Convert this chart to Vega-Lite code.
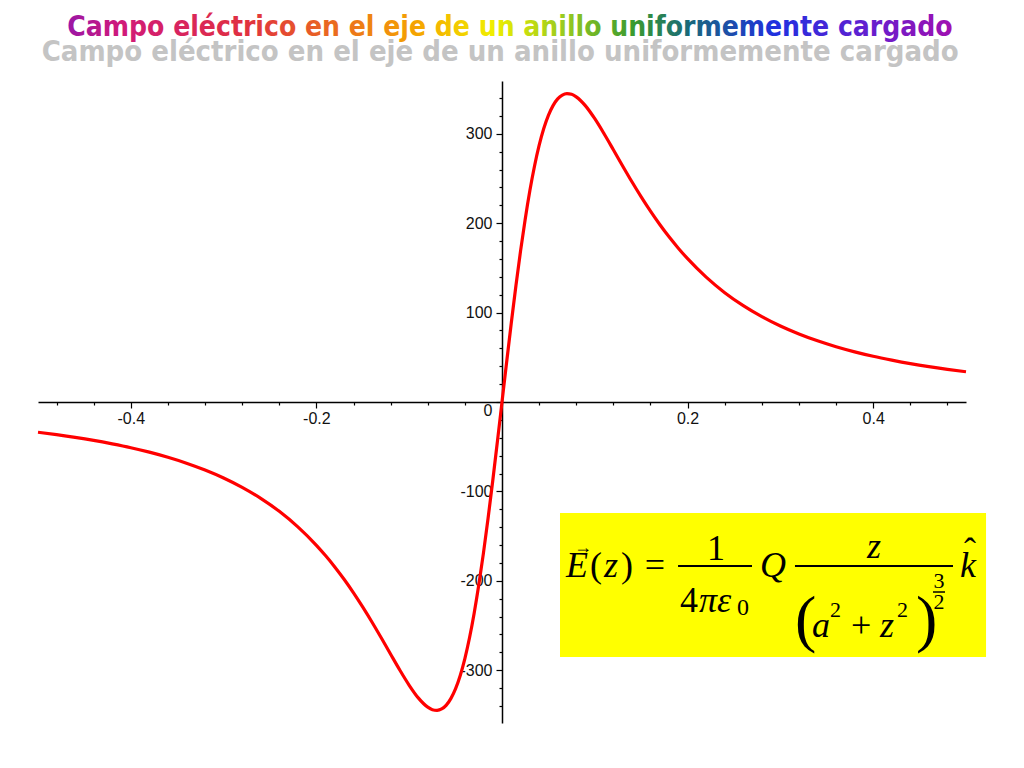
{
  "$schema": "https://vega.github.io/schema/vega-lite/v6.json",
  "autosize": {"type": "none"},
  "width": 928,
  "height": 642,
  "padding": {"left": 38, "top": 81, "right": 58, "bottom": 45},
  "background": "#ffffff",
  "config": {
    "view": {"stroke": null},
    "font": "Liberation Sans"
  },
  "resolve": {"axis": {"x": "independent", "y": "independent"}},
  "datasets": {
    "curve": [
      {"z": -0.5, "E": -33.8}, {"z": -0.48, "E": -36.5}, {"z": -0.46, "E": -39.5}, {"z": -0.44, "E": -42.9},
      {"z": -0.42, "E": -46.8}, {"z": -0.4, "E": -51.1}, {"z": -0.38, "E": -56.1}, {"z": -0.36, "E": -61.8},
      {"z": -0.34, "E": -68.4}, {"z": -0.32, "E": -76.1}, {"z": -0.3, "E": -85.0}, {"z": -0.28, "E": -95.5},
      {"z": -0.26, "E": -107.8}, {"z": -0.24, "E": -122.3}, {"z": -0.22, "E": -139.7}, {"z": -0.2, "E": -160.3},
      {"z": -0.19, "E": -172.0}, {"z": -0.18, "E": -184.7}, {"z": -0.17, "E": -198.5}, {"z": -0.16, "E": -213.4},
      {"z": -0.15, "E": -229.4}, {"z": -0.14, "E": -246.3}, {"z": -0.13, "E": -264.0}, {"z": -0.12, "E": -282.1},
      {"z": -0.11, "E": -300.0}, {"z": -0.1, "E": -316.8}, {"z": -0.09, "E": -331.2}, {"z": -0.08, "E": -341.3},
      {"z": -0.075, "E": -344.1}, {"z": -0.07, "E": -344.8}, {"z": -0.065, "E": -343.3}, {"z": -0.06, "E": -339.0},
      {"z": -0.055, "E": -331.5}, {"z": -0.05, "E": -320.6}, {"z": -0.045, "E": -305.8}, {"z": -0.04, "E": -286.9},
      {"z": -0.035, "E": -263.7}, {"z": -0.03, "E": -236.2}, {"z": -0.025, "E": -204.5}, {"z": -0.02, "E": -169.0},
      {"z": -0.015, "E": -130.0}, {"z": -0.01, "E": -88.3}, {"z": -0.005, "E": -44.6}, {"z": 0, "E": 0},
      {"z": 0.005, "E": 44.6}, {"z": 0.01, "E": 88.3}, {"z": 0.015, "E": 130.0}, {"z": 0.02, "E": 169.0},
      {"z": 0.025, "E": 204.5}, {"z": 0.03, "E": 236.2}, {"z": 0.035, "E": 263.7}, {"z": 0.04, "E": 286.9},
      {"z": 0.045, "E": 305.8}, {"z": 0.05, "E": 320.6}, {"z": 0.055, "E": 331.5}, {"z": 0.06, "E": 339.0},
      {"z": 0.065, "E": 343.3}, {"z": 0.07, "E": 344.8}, {"z": 0.075, "E": 344.1}, {"z": 0.08, "E": 341.3},
      {"z": 0.09, "E": 331.2}, {"z": 0.1, "E": 316.8}, {"z": 0.11, "E": 300.0}, {"z": 0.12, "E": 282.1},
      {"z": 0.13, "E": 264.0}, {"z": 0.14, "E": 246.3}, {"z": 0.15, "E": 229.4}, {"z": 0.16, "E": 213.4},
      {"z": 0.17, "E": 198.5}, {"z": 0.18, "E": 184.7}, {"z": 0.19, "E": 172.0}, {"z": 0.2, "E": 160.3},
      {"z": 0.22, "E": 139.7}, {"z": 0.24, "E": 122.3}, {"z": 0.26, "E": 107.8}, {"z": 0.28, "E": 95.5},
      {"z": 0.3, "E": 85.0}, {"z": 0.32, "E": 76.1}, {"z": 0.34, "E": 68.4}, {"z": 0.36, "E": 61.8},
      {"z": 0.38, "E": 56.1}, {"z": 0.4, "E": 51.1}, {"z": 0.42, "E": 46.8}, {"z": 0.44, "E": 42.9},
      {"z": 0.46, "E": 39.5}, {"z": 0.48, "E": 36.5}, {"z": 0.5, "E": 33.8}
    ],
    "one": [{}]
  },
  "layer": [
    {
      "data": {"name": "one"},
      "mark": {"type": "text", "text": "Campo eléctrico en el eje de un anillo uniformemente cargado", "font": "DejaVu Sans Condensed, Liberation Sans", "fontSize": 29, "fontWeight": "bold", "color": "#c4c4c4", "align": "center", "baseline": "middle", "clip": false},
      "encoding": {"x": {"datum": -0.002, "axis": null}, "y": {"datum": 391, "axis": null}}
    },
    {
      "data": {"name": "one"},
      "mark": {"type": "text", "text": "Campo eléctrico en el eje de un anillo uniformemente cargado", "font": "DejaVu Sans Condensed, Liberation Sans", "fontSize": 28, "fontWeight": "bold", "align": "center", "baseline": "middle", "clip": false,
        "color": {
          "gradient": "linear",
          "x1": 0, "y1": 0, "x2": 1, "y2": 0,
          "stops": [
            {"offset": 0.0, "color": "#9a16a6"},
            {"offset": 0.06, "color": "#d01a7a"},
            {"offset": 0.2, "color": "#e03040"},
            {"offset": 0.3, "color": "#ea6a20"},
            {"offset": 0.4, "color": "#f5a800"},
            {"offset": 0.48, "color": "#f0ee00"},
            {"offset": 0.56, "color": "#9acb20"},
            {"offset": 0.64, "color": "#3a9a30"},
            {"offset": 0.7, "color": "#1a6a78"},
            {"offset": 0.8, "color": "#2030e0"},
            {"offset": 0.9, "color": "#6020d0"},
            {"offset": 1.0, "color": "#a010b0"}
          ]
        }
      },
      "encoding": {"x": {"datum": 0.0086, "axis": null}, "y": {"datum": 418, "axis": null}}
    },
    {
      "data": {"name": "one"},
      "mark": {"type": "rect", "color": "#ffff00", "clip": false},
      "encoding": {"x": {"datum": 0.0625, "axis": null}, "x2": {"datum": 0.5216}, "y": {"datum": -124.1, "axis": null}, "y2": {"datum": -285.2}}
    },
    {"data": {"name": "one"}, "mark": {"type": "text", "text": "E", "font": "Liberation Serif", "fontSize": 36, "fontStyle": "italic", "align": "left", "baseline": "alphabetic", "clip": false},
     "encoding": {"x": {"datum": 0.069, "axis": null}, "y": {"datum": -195.7, "axis": null}}},
    {"data": {"name": "one"}, "mark": {"type": "text", "text": "→", "font": "Liberation Serif", "fontSize": 18, "align": "center", "baseline": "middle", "clip": false},
     "encoding": {"x": {"datum": 0.0873, "axis": null}, "y": {"datum": -163.3, "axis": null}}},
    {"data": {"name": "one"}, "mark": {"type": "text", "text": "(", "font": "Liberation Serif", "fontSize": 36, "align": "left", "baseline": "alphabetic", "clip": false},
     "encoding": {"x": {"datum": 0.0948, "axis": null}, "y": {"datum": -195.7, "axis": null}}},
    {"data": {"name": "one"}, "mark": {"type": "text", "text": "z", "font": "Liberation Serif", "fontSize": 36, "fontStyle": "italic", "align": "left", "baseline": "alphabetic", "clip": false},
     "encoding": {"x": {"datum": 0.1098, "axis": null}, "y": {"datum": -195.7, "axis": null}}},
    {"data": {"name": "one"}, "mark": {"type": "text", "text": ")", "font": "Liberation Serif", "fontSize": 36, "align": "left", "baseline": "alphabetic", "clip": false},
     "encoding": {"x": {"datum": 0.1282, "axis": null}, "y": {"datum": -195.7, "axis": null}}},
    {"data": {"name": "one"}, "mark": {"type": "text", "text": "=", "font": "Liberation Serif", "fontSize": 36, "align": "center", "baseline": "alphabetic", "clip": false},
     "encoding": {"x": {"datum": 0.1649, "axis": null}, "y": {"datum": -195.7, "axis": null}}},
    {"data": {"name": "one"}, "mark": {"type": "text", "text": "1", "font": "Liberation Serif", "fontSize": 36, "align": "center", "baseline": "alphabetic", "clip": false},
     "encoding": {"x": {"datum": 0.2306, "axis": null}, "y": {"datum": -176.7, "axis": null}}},
    {"data": {"name": "one"}, "mark": {"type": "rule", "color": "#000000", "strokeWidth": 2, "clip": false},
     "encoding": {"x": {"datum": 0.1897, "axis": null}, "x2": {"datum": 0.2694}, "y": {"datum": -183.4, "axis": null}}},
    {"data": {"name": "one"}, "mark": {"type": "text", "text": "4", "font": "Liberation Serif", "fontSize": 36, "align": "left", "baseline": "alphabetic", "clip": false},
     "encoding": {"x": {"datum": 0.1918, "axis": null}, "y": {"datum": -234.9, "axis": null}}},
    {"data": {"name": "one"}, "mark": {"type": "text", "text": "πε", "font": "Liberation Serif", "fontSize": 36, "fontStyle": "italic", "align": "left", "baseline": "alphabetic", "clip": false},
     "encoding": {"x": {"datum": 0.2123, "axis": null}, "y": {"datum": -234.9, "axis": null}}},
    {"data": {"name": "one"}, "mark": {"type": "text", "text": "0", "font": "Liberation Serif", "fontSize": 24, "align": "left", "baseline": "alphabetic", "clip": false},
     "encoding": {"x": {"datum": 0.2532, "axis": null}, "y": {"datum": -238.2, "axis": null}}},
    {"data": {"name": "one"}, "mark": {"type": "text", "text": "Q", "font": "Liberation Serif", "fontSize": 36, "fontStyle": "italic", "align": "left", "baseline": "alphabetic", "clip": false},
     "encoding": {"x": {"datum": 0.278, "axis": null}, "y": {"datum": -195.7, "axis": null}}},
    {"data": {"name": "one"}, "mark": {"type": "rule", "color": "#000000", "strokeWidth": 2, "clip": false},
     "encoding": {"x": {"datum": 0.3157, "axis": null}, "x2": {"datum": 0.486}, "y": {"datum": -183.4, "axis": null}}},
    {"data": {"name": "one"}, "mark": {"type": "text", "text": "z", "font": "Liberation Serif", "fontSize": 36, "fontStyle": "italic", "align": "center", "baseline": "alphabetic", "clip": false},
     "encoding": {"x": {"datum": 0.4009, "axis": null}, "y": {"datum": -174.5, "axis": null}}},
    {"data": {"name": "one"}, "mark": {"type": "text", "text": "(", "font": "Liberation Serif", "fontSize": 64, "align": "left", "baseline": "alphabetic", "clip": false},
     "encoding": {"x": {"datum": 0.3157, "axis": null}, "y": {"datum": -266.2, "axis": null}}},
    {"data": {"name": "one"}, "mark": {"type": "text", "text": "a", "font": "Liberation Serif", "fontSize": 36, "fontStyle": "italic", "align": "left", "baseline": "alphabetic", "clip": false},
     "encoding": {"x": {"datum": 0.3341, "axis": null}, "y": {"datum": -262.8, "axis": null}}},
    {"data": {"name": "one"}, "mark": {"type": "text", "text": "2", "font": "Liberation Serif", "fontSize": 22, "align": "left", "baseline": "alphabetic", "clip": false},
     "encoding": {"x": {"datum": 0.3534, "axis": null}, "y": {"datum": -240.5, "axis": null}}},
    {"data": {"name": "one"}, "mark": {"type": "text", "text": "+", "font": "Liberation Serif", "fontSize": 36, "align": "center", "baseline": "alphabetic", "clip": false},
     "encoding": {"x": {"datum": 0.3869, "axis": null}, "y": {"datum": -262.8, "axis": null}}},
    {"data": {"name": "one"}, "mark": {"type": "text", "text": "z", "font": "Liberation Serif", "fontSize": 36, "fontStyle": "italic", "align": "left", "baseline": "alphabetic", "clip": false},
     "encoding": {"x": {"datum": 0.4073, "axis": null}, "y": {"datum": -262.8, "axis": null}}},
    {"data": {"name": "one"}, "mark": {"type": "text", "text": "2", "font": "Liberation Serif", "fontSize": 22, "align": "left", "baseline": "alphabetic", "clip": false},
     "encoding": {"x": {"datum": 0.4256, "axis": null}, "y": {"datum": -240.5, "axis": null}}},
    {"data": {"name": "one"}, "mark": {"type": "text", "text": ")", "font": "Liberation Serif", "fontSize": 64, "align": "left", "baseline": "alphabetic", "clip": false},
     "encoding": {"x": {"datum": 0.4461, "axis": null}, "y": {"datum": -266.2, "axis": null}}},
    {"data": {"name": "one"}, "mark": {"type": "text", "text": "3", "font": "Liberation Serif", "fontSize": 22, "align": "center", "baseline": "alphabetic", "clip": false},
     "encoding": {"x": {"datum": 0.4709, "axis": null}, "y": {"datum": -208.0, "axis": null}}},
    {"data": {"name": "one"}, "mark": {"type": "rule", "color": "#000000", "strokeWidth": 1.5, "clip": false},
     "encoding": {"x": {"datum": 0.4644, "axis": null}, "x2": {"datum": 0.4774}, "y": {"datum": -212.5, "axis": null}}},
    {"data": {"name": "one"}, "mark": {"type": "text", "text": "2", "font": "Liberation Serif", "fontSize": 22, "align": "center", "baseline": "alphabetic", "clip": false},
     "encoding": {"x": {"datum": 0.4709, "axis": null}, "y": {"datum": -231.5, "axis": null}}},
    {"data": {"name": "one"}, "mark": {"type": "text", "text": "k", "font": "Liberation Serif", "fontSize": 36, "fontStyle": "italic", "align": "left", "baseline": "alphabetic", "clip": false},
     "encoding": {"x": {"datum": 0.4935, "axis": null}, "y": {"datum": -195.7, "axis": null}}},
    {"data": {"name": "one"}, "mark": {"type": "text", "text": "ˆ", "font": "Liberation Serif", "fontSize": 36, "align": "center", "baseline": "alphabetic", "clip": false},
     "encoding": {"x": {"datum": 0.5043, "axis": null}, "y": {"datum": -180.1, "axis": null}}},
    {
      "data": {"name": "curve"},
      "mark": {"type": "line", "color": "#ff0000", "strokeWidth": 3.2, "interpolate": "monotone", "clip": false},
      "encoding": {
        "x": {
          "field": "z", "type": "quantitative",
          "scale": {"domain": [-0.5, 0.5], "nice": false, "zero": false},
          "axis": {
            "title": null,
            "orient": "bottom",
            "offset": -321,
            "grid": false,
            "values": [-0.48, -0.44, -0.4, -0.36, -0.32, -0.28, -0.24, -0.2, -0.16, -0.12, -0.08, -0.04, 0.04, 0.08, 0.12, 0.16, 0.2, 0.24, 0.28, 0.32, 0.36, 0.4, 0.44, 0.48],
            "labelExpr": "abs(datum.value*5 - round(datum.value*5)) < 0.001 ? replace(format(datum.value, '.1f'), '−', '-') : ''",
            "tickSize": {"condition": {"test": "abs(datum.value*5 - round(datum.value*5)) < 0.001", "value": 6}, "value": 3},
            "domainColor": "#000000",
            "domainWidth": 1.5,
            "tickColor": "#000000",
            "tickWidth": 1.2,
            "labelFont": "Liberation Sans",
            "labelFontSize": 16,
            "labelColor": "#111111",
            "labelPadding": 2,
            "labelFlush": false,
            "labelOverlap": false
          }
        },
        "y": {
          "field": "E", "type": "quantitative",
          "scale": {"domain": [-359, 359], "nice": false, "zero": false},
          "axis": {
            "title": null,
            "orient": "left",
            "offset": -464,
            "grid": false,
            "values": [-340, -320, -300, -280, -260, -240, -220, -200, -180, -160, -140, -120, -100, -80, -60, -40, -20, 0, 20, 40, 60, 80, 100, 120, 140, 160, 180, 200, 220, 240, 260, 280, 300, 320, 340],
            "labelExpr": "datum.value % 100 == 0 ? replace(format(datum.value, 'd'), '−', '-') : ''",
            "tickSize": {"condition": {"test": "datum.value % 100 == 0", "value": 6}, "value": 3},
            "labelOffset": {"condition": {"test": "datum.value == 0", "value": 8}, "value": 0},
            "domainColor": "#000000",
            "domainWidth": 1.5,
            "tickColor": "#000000",
            "tickWidth": 1.2,
            "labelFont": "Liberation Sans",
            "labelFontSize": 16,
            "labelColor": "#111111",
            "labelPadding": 4,
            "labelFlush": false,
            "labelOverlap": false
          }
        }
      }
    }
  ]
}
